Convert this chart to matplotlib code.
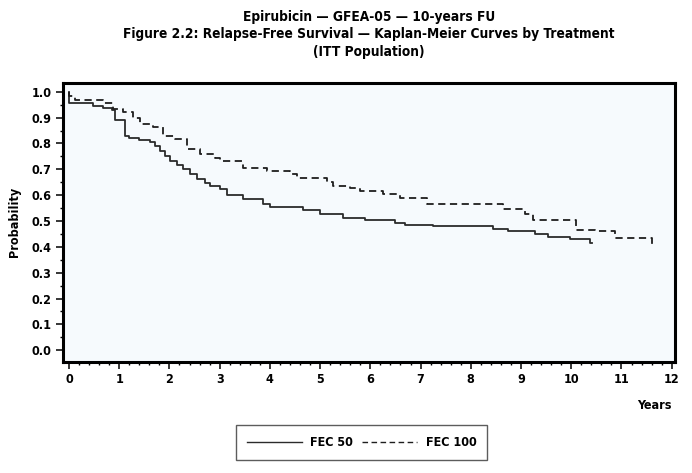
import numpy as np
import matplotlib.pyplot as plt
from matplotlib.ticker import MultipleLocator, FormatStrFormatter

plt.rcParams['font.family'] = ['DejaVu Sans']
plt.rcParams['font.stretch'] = 'condensed'
plt.rcParams['font.weight'] = 'bold'

# Kaplan-Meier step data
fec50_years = [0, 0, 0.48, 0.68, 0.86, 0.92, 1.11, 1.2, 1.4, 1.61, 1.72, 1.81, 1.92,
               2.01, 2.15, 2.27, 2.4, 2.54, 2.7, 2.81, 3.0, 3.14, 3.47, 3.87, 4.0,
               4.66, 5.0, 5.46, 5.89, 6.49, 6.69, 7.25, 8.44, 8.74, 9.27, 9.53,
               9.97, 10.37, 10.41]
fec50_prob = [1.0, 0.955, 0.946, 0.938, 0.93, 0.892, 0.83, 0.82, 0.812, 0.804, 0.79,
              0.771, 0.752, 0.733, 0.715, 0.70, 0.682, 0.662, 0.648, 0.637, 0.624,
              0.601, 0.586, 0.567, 0.555, 0.541, 0.528, 0.513, 0.505, 0.493, 0.485,
              0.48, 0.468, 0.463, 0.451, 0.44, 0.43, 0.413, 0.413]

fec100_years = [0, 0, 0.12, 0.68, 0.88, 1.08, 1.28, 1.41, 1.67, 1.87, 2.11, 2.34,
                2.61, 2.9, 3.0, 3.47, 3.94, 4.4, 4.53, 5.13, 5.26, 5.59, 5.79, 6.25,
                6.59, 7.12, 8.64, 9.07, 9.24, 10.1, 10.47, 10.87, 11.6, 11.62]
fec100_prob = [1.0, 0.982, 0.969, 0.955, 0.935, 0.923, 0.90, 0.876, 0.862, 0.829,
               0.816, 0.778, 0.758, 0.745, 0.733, 0.707, 0.694, 0.682, 0.665, 0.65,
               0.637, 0.627, 0.618, 0.605, 0.588, 0.567, 0.545, 0.528, 0.503, 0.467,
               0.46, 0.435, 0.40, 0.40]

title_lines = ['Epirubicin \u2014 GFEA-05 \u2014 10-years FU',
               'Figure 2.2: Relapse-Free Survival \u2014 Kaplan-Meier Curves by Treatment',
               '(ITT Population)']

fig = plt.figure(figsize=(6.92, 4.73), dpi=100)
ax = fig.add_axes([0.091, 0.235, 0.884, 0.59])
ax.set_facecolor('#f6fafd')

ax.step(fec50_years, fec50_prob, where='post', color='#2b2b2b', lw=1.3,
        label='FEC 50')
ax.step(fec100_years, fec100_prob, where='post', color='#1e1e1e', lw=1.3,
        linestyle=(0, (4, 2.5)), label='FEC 100')

ax.set_xlim(-0.12, 12.06)
ax.set_ylim(-0.045, 1.035)
ax.xaxis.set_major_locator(MultipleLocator(1))
ax.xaxis.set_minor_locator(MultipleLocator(0.2))
ax.yaxis.set_major_locator(MultipleLocator(0.1))
ax.yaxis.set_minor_locator(MultipleLocator(0.05))
ax.yaxis.set_major_formatter(FormatStrFormatter('%.1f'))

for s in ax.spines.values():
    s.set_linewidth(2.2)
ax.tick_params(which='major', length=5, width=1.1, labelsize=9, pad=3)
ax.tick_params(which='minor', length=2.5, width=1.0)

ax.set_ylabel('Probability', fontsize=9, fontweight='bold', labelpad=8)
ax.text(12.0, -0.19, 'Years', fontsize=9, fontweight='bold', ha='right',
        va='top', transform=ax.transData)

for i, line in enumerate(title_lines):
    fig.text(0.533, 0.965 - i * 0.037, line, ha='center', va='center',
             fontsize=9.8, fontweight='bold')

leg = fig.legend(loc='center', bbox_to_anchor=(0.5225, 0.0645), ncol=2,
                 frameon=True, fancybox=False, edgecolor='#333333',
                 fontsize=9, handlelength=4.4, columnspacing=0.7,
                 handletextpad=0.7, borderpad=0.85)
leg.get_frame().set_linewidth(1.0)
for h in leg.get_lines():
    h.set_linewidth(1.0)

fig.savefig('out.png', dpi=100)
